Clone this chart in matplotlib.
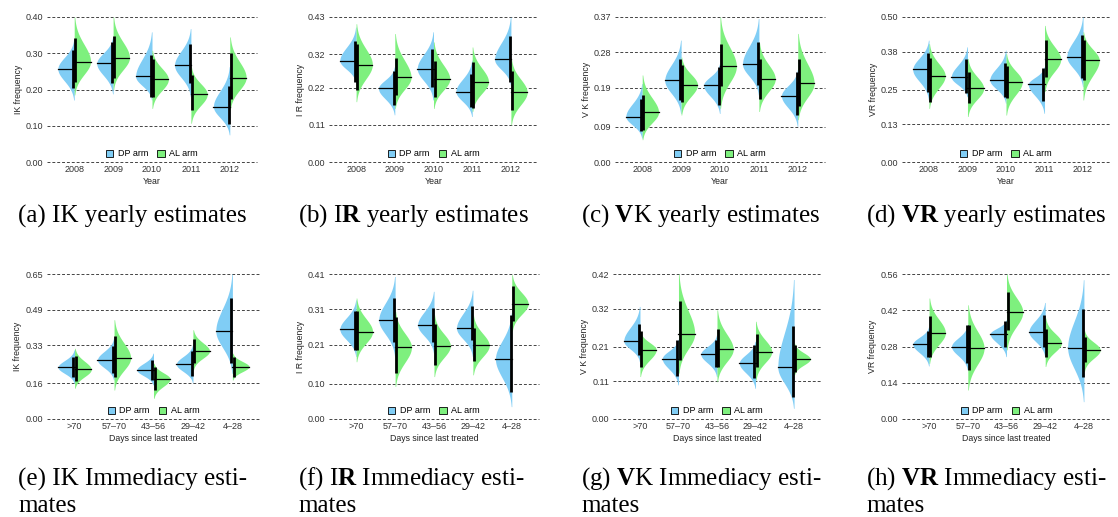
import numpy as np
import matplotlib.pyplot as plt
from matplotlib.patches import Patch

plt.rcParams['font.family'] = ['Liberation Sans', 'DejaVu Sans']
plt.rcParams['mathtext.fontset'] = 'custom'
plt.rcParams['mathtext.rm'] = 'Liberation Serif'
plt.rcParams['mathtext.bf'] = 'Liberation Serif:bold'

years = ['2008', '2009', '2010', '2011', '2012']
days = ['>70', '57\u201370', '43\u201356', '29\u201342', '4\u201328']

# each row: median, interval low, interval high, tail low, tail high
ik_year_dp = [[0.257, 0.203, 0.310, 0.171, 0.338], [0.272, 0.219, 0.330, 0.188, 0.345],
              [0.236, 0.178, 0.295, 0.171, 0.359], [0.267, 0.217, 0.325, 0.180, 0.368],
              [0.153, 0.105, 0.210, 0.075, 0.263]]
ik_year_al = [[0.277, 0.222, 0.342, 0.185, 0.400], [0.288, 0.232, 0.347, 0.200, 0.400],
              [0.228, 0.180, 0.283, 0.148, 0.308], [0.187, 0.144, 0.240, 0.107, 0.263],
              [0.233, 0.175, 0.300, 0.144, 0.345]]
ir_year_dp = [[0.301, 0.238, 0.359, 0.235, 0.400], [0.218, 0.169, 0.270, 0.140, 0.282],
              [0.277, 0.223, 0.334, 0.184, 0.386], [0.209, 0.162, 0.261, 0.135, 0.302],
              [0.304, 0.238, 0.373, 0.228, 0.430]]
ir_year_al = [[0.289, 0.215, 0.349, 0.179, 0.410], [0.251, 0.199, 0.307, 0.159, 0.381],
              [0.246, 0.194, 0.300, 0.159, 0.356], [0.238, 0.159, 0.297, 0.150, 0.341],
              [0.207, 0.155, 0.270, 0.110, 0.307]]
vk_year_dp = [[0.116, 0.080, 0.160, 0.061, 0.200], [0.208, 0.158, 0.264, 0.124, 0.311],
              [0.196, 0.146, 0.243, 0.124, 0.251], [0.250, 0.196, 0.306, 0.171, 0.366],
              [0.169, 0.120, 0.230, 0.091, 0.235]]
vk_year_al = [[0.127, 0.082, 0.171, 0.057, 0.222], [0.197, 0.152, 0.247, 0.120, 0.268],
              [0.244, 0.194, 0.300, 0.137, 0.370], [0.212, 0.160, 0.264, 0.129, 0.306],
              [0.201, 0.143, 0.264, 0.108, 0.328]]
vr_year_dp = [[0.319, 0.243, 0.376, 0.214, 0.420], [0.293, 0.237, 0.354, 0.225, 0.397],
              [0.283, 0.225, 0.342, 0.203, 0.386], [0.268, 0.212, 0.323, 0.168, 0.328],
              [0.363, 0.288, 0.437, 0.260, 0.500]]
vr_year_al = [[0.297, 0.208, 0.357, 0.185, 0.408], [0.254, 0.203, 0.311, 0.157, 0.357],
              [0.276, 0.219, 0.332, 0.162, 0.374], [0.354, 0.294, 0.422, 0.243, 0.471],
              [0.351, 0.283, 0.422, 0.214, 0.449]]

ik_days_dp = [[0.232, 0.190, 0.280, 0.160, 0.310], [0.265, 0.205, 0.328, 0.175, 0.362],
              [0.220, 0.175, 0.265, 0.153, 0.295], [0.246, 0.193, 0.303, 0.163, 0.332],
              [0.395, 0.253, 0.542, 0.205, 0.650]]
ik_days_al = [[0.222, 0.172, 0.283, 0.138, 0.317], [0.274, 0.190, 0.370, 0.130, 0.445],
              [0.180, 0.130, 0.235, 0.093, 0.250], [0.305, 0.253, 0.360, 0.220, 0.400],
              [0.235, 0.190, 0.280, 0.175, 0.295]]
ir_days_dp = [[0.254, 0.196, 0.304, 0.177, 0.337], [0.280, 0.219, 0.342, 0.177, 0.403],
              [0.266, 0.219, 0.314, 0.186, 0.361], [0.257, 0.224, 0.320, 0.177, 0.364],
              [0.170, 0.077, 0.295, 0.035, 0.300]]
ir_days_al = [[0.247, 0.194, 0.304, 0.162, 0.342], [0.203, 0.131, 0.288, 0.092, 0.304],
              [0.207, 0.153, 0.269, 0.120, 0.295], [0.208, 0.165, 0.257, 0.125, 0.295],
              [0.326, 0.276, 0.377, 0.248, 0.408]]
vk_days_dp = [[0.226, 0.186, 0.276, 0.166, 0.326], [0.175, 0.125, 0.229, 0.099, 0.231],
              [0.188, 0.150, 0.229, 0.123, 0.244], [0.162, 0.118, 0.215, 0.089, 0.225],
              [0.150, 0.065, 0.268, 0.031, 0.404]]
vk_days_al = [[0.201, 0.152, 0.255, 0.123, 0.254], [0.247, 0.171, 0.341, 0.133, 0.420],
              [0.202, 0.150, 0.261, 0.108, 0.316], [0.195, 0.152, 0.247, 0.113, 0.283],
              [0.174, 0.137, 0.215, 0.128, 0.220]]
vr_days_dp = [[0.289, 0.239, 0.341, 0.205, 0.357], [0.280, 0.215, 0.364, 0.190, 0.364],
              [0.329, 0.277, 0.377, 0.241, 0.383], [0.337, 0.280, 0.403, 0.241, 0.450],
              [0.276, 0.161, 0.424, 0.067, 0.538]]
vr_days_al = [[0.333, 0.239, 0.396, 0.215, 0.467], [0.274, 0.190, 0.364, 0.112, 0.441],
              [0.413, 0.342, 0.489, 0.267, 0.560], [0.294, 0.239, 0.348, 0.203, 0.390],
              [0.267, 0.222, 0.315, 0.183, 0.344]]

y_labels = ['IK frequency', 'I R frequency', 'V K frequency', 'VR frequency']
y_ticks = [['0.00', '0.10', '0.20', '0.30', '0.40'],
           ['0.00', '0.11', '0.22', '0.32', '0.43'],
           ['0.00', '0.09', '0.19', '0.28', '0.37'],
           ['0.00', '0.13', '0.25', '0.38', '0.50'],
           ['0.00', '0.16', '0.33', '0.49', '0.65'],
           ['0.00', '0.10', '0.21', '0.31', '0.41'],
           ['0.00', '0.11', '0.21', '0.32', '0.42'],
           ['0.00', '0.14', '0.28', '0.42', '0.56']]

captions = ['(a) IK yearly estimates',
            '(b) I$\\mathbf{R}$ yearly estimates',
            '(c) $\\mathbf{V}$K yearly estimates',
            '(d) $\\mathbf{VR}$ yearly estimates',
            '(e) IK Immediacy esti-',
            '(f) I$\\mathbf{R}$ Immediacy esti-',
            '(g) $\\mathbf{V}$K Immediacy esti-',
            '(h) $\\mathbf{VR}$ Immediacy esti-']

panels = [(ik_year_dp, ik_year_al), (ir_year_dp, ir_year_al),
          (vk_year_dp, vk_year_al), (vr_year_dp, vr_year_al),
          (ik_days_dp, ik_days_al), (ir_days_dp, ir_days_al),
          (vk_days_dp, vk_days_al), (vr_days_dp, vr_days_al)]

BLUE = '#80cdf5'
GREEN = '#7ef07e'
HALF_W = 0.42
W, H = 1118, 517

# axes boxes in pixels: left, right, top, bottom
boxes = [(47, 257, 17, 162), (329, 538, 17, 162), (615, 825, 17, 162), (902, 1110, 17, 162),
         (47, 260, 274, 419), (329, 539, 274, 419), (613, 821, 274, 419), (902, 1111, 274, 419)]
cap_x = [18, 298, 581, 866]


def half_violin(ax, x, row, side, color):
    med, ci_lo, ci_hi, lo, hi = row
    y = np.linspace(lo, hi, 300)
    s = np.where(y < med, (med - lo) / 2.6, (hi - med) / 2.6)
    w = HALF_W * np.exp(-0.5 * ((y - med) / s) ** 2)
    if side < 0:
        ax.fill_betweenx(y, x - w, x, color=color, lw=0, zorder=2)
        ax.plot([x - HALF_W, x], [med, med], color='black', lw=0.9, zorder=3)
    else:
        ax.fill_betweenx(y, x, x + w, color=color, lw=0, zorder=2)
        ax.plot([x, x + HALF_W], [med, med], color='black', lw=0.9, zorder=3)
    ax.plot([x + side * 0.03] * 2, [ci_lo, ci_hi], color='black', lw=2.0,
            solid_capstyle='butt', zorder=4)


fig = plt.figure(figsize=(W / 100, H / 100), dpi=100)

for i, (dp, al) in enumerate(panels):
    l, r, t, b = boxes[i]
    ax = fig.add_axes([l / W, 1 - b / H, (r - l) / W, (b - t) / H])
    ticks = [float(v) for v in y_ticks[i]]
    for v in ticks:
        ax.axhline(v, color='#444444', lw=0.7, ls=(0, (3, 2)), zorder=1, clip_on=False)
    cats = years if i < 4 else days
    xs = np.arange(1, len(cats) + 1)
    for x, rd, ra in zip(xs, dp, al):
        half_violin(ax, x, rd, -1, BLUE)
        half_violin(ax, x, ra, 1, GREEN)
    ax.set_xlim(0.3, 5.7)
    ax.set_ylim(0, ticks[-1])
    ax.set_xticks(xs)
    ax.set_xticklabels(cats)
    ax.set_yticks(ticks)
    ax.set_yticklabels(y_ticks[i])
    ax.tick_params(length=0, labelsize=6.5, colors='#333333', pad=2.5)
    for sp in ax.spines.values():
        sp.set_visible(False)
    ax.set_xlabel('Year' if i < 4 else 'Days since last treated', fontsize=6.3,
                  color='#222222', labelpad=1.5)
    ax.set_ylabel(y_labels[i % 4], fontsize=6.3, color='#222222', labelpad=2.5)
    handles = [Patch(facecolor=BLUE, edgecolor='black', lw=0.6, label='DP arm'),
               Patch(facecolor=GREEN, edgecolor='black', lw=0.6, label='AL arm')]
    ax.legend(handles=handles, loc='lower center', bbox_to_anchor=(0.5, -0.005),
              ncol=2, frameon=False, fontsize=6.5, handlelength=0.8, handleheight=0.8,
              handletextpad=0.5, columnspacing=1.0, borderpad=0)

    if i < 4:
        fig.text(cap_x[i] / W, 1 - 216 / H, captions[i], ha='left', va='center',
                 fontsize=18, family='Liberation Serif')
    else:
        fig.text(cap_x[i - 4] / W, 1 - 479 / H, captions[i], ha='left', va='center',
                 fontsize=18, family='Liberation Serif')
        fig.text(cap_x[i - 4] / W, 1 - 505.5 / H, 'mates', ha='left', va='center',
                 fontsize=18, family='Liberation Serif')

fig.savefig('out.png', dpi=100)
